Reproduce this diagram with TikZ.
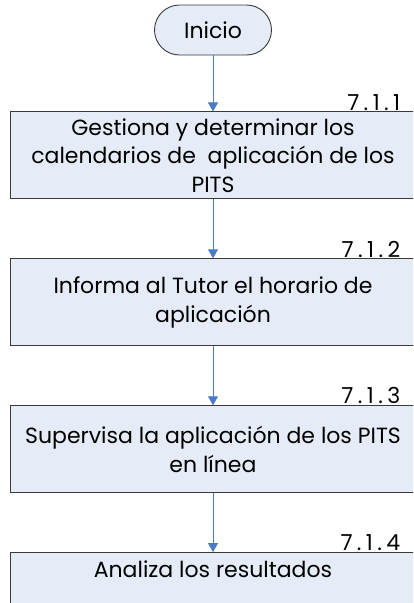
\documentclass[tikz,border=0pt]{standalone}
\usepackage{fontspec}
\setmainfont{Poppins}
\usetikzlibrary{positioning,arrows.meta}
\definecolor{paleblue}{HTML}{E6ECF7}
\definecolor{flowblue}{HTML}{4A7BC4}
\definecolor{edgegray}{HTML}{3A3A3A}

\begin{document}
\begin{tikzpicture}[x=1pt, y=-1pt,
      start/.style={rectangle, draw=edgegray, fill=paleblue, rounded corners=25pt, minimum width=117pt, minimum height=50pt, line width=0.9pt, font=\fontsize{22pt}{28pt}\selectfont},
      stepbox/.style={rectangle, draw=edgegray, fill=paleblue, minimum width=406pt, minimum height=87pt, align=center, line width=0.9pt, font=\fontsize{22pt}{28.5pt}\selectfont},
      num/.style={anchor=south east, inner sep=1pt, font=\fontsize{22pt}{24pt}\selectfont\addfontfeature{LetterSpace=20}},
      flow/.style={-{Triangle[width=10pt,length=9pt]}, draw=flowblue, line width=0.8pt}
      ]
      \clip (0,0) rectangle (413,603);
      \node[start] (INI) at (213,30) {Inicio};
      \node[stepbox, below=56pt of INI] (S1) {Gestiona y determinar los\\calendarios de\ \ aplicación de los\\PITS};
      \node[stepbox, below=59pt of S1] (S2) {Informa al Tutor el horario de\\aplicación};
      \node[stepbox, below=59pt of S2] (S3) {Supervisa la aplicación de los PITS\\en línea};
      \node[stepbox, below=59pt of S3, text depth=54pt] (S4) {Analiza los resultados};
      \node[num] (N1) at ([xshift=-15pt]S1.north east) {7.1.1};
      \node[num] (N2) at ([xshift=-15pt]S2.north east) {7.1.2};
      \node[num] (N3) at ([xshift=-15pt]S3.north east) {7.1.3};
      \node[num] (N4) at ([xshift=-15pt]S4.north east) {7.1.4};
      \draw[flow] (INI) -- (S1);
      \draw[flow] (S1) -- (S2);
      \draw[flow] (S2) -- (S3);
      \draw[flow] (S3) -- (S4);
\end{tikzpicture}
\end{document}
